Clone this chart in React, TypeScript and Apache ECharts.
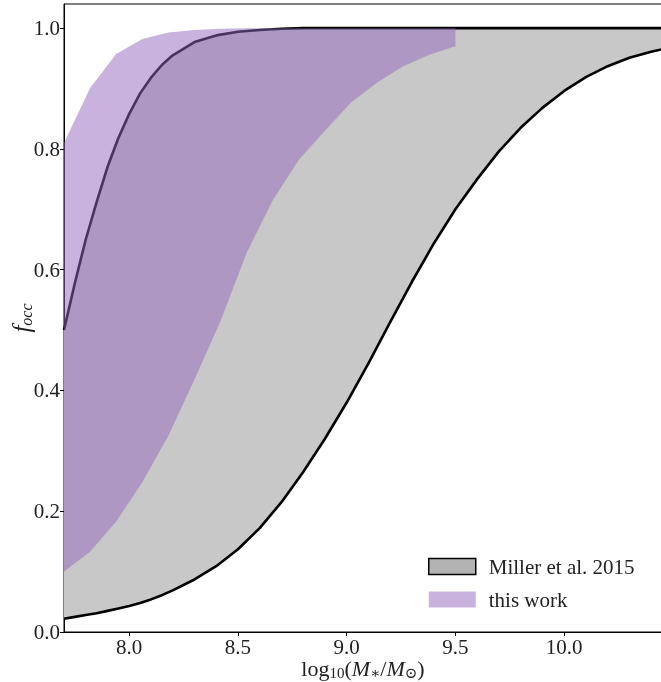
import React, { useEffect, useRef } from "react";
import * as echarts from "echarts";

// Miller et al. 2015 band (log10 stellar mass grid, lower and upper occupation fraction)
const massX = [7.7, 7.75, 7.8, 7.85, 7.9, 7.95, 8.0, 8.05, 8.1, 8.15, 8.2, 8.3, 8.4, 8.5, 8.6, 8.7, 8.8, 8.9, 9.0, 9.1, 9.2, 9.3, 9.4, 9.5, 9.6, 9.7, 9.8, 9.9, 10.0, 10.1, 10.2, 10.3, 10.4, 10.45];
const millerLower = [0.022, 0.025, 0.028, 0.031, 0.035, 0.039, 0.043, 0.048, 0.054, 0.061, 0.069, 0.087, 0.109, 0.137, 0.172, 0.215, 0.265, 0.32, 0.38, 0.445, 0.513, 0.58, 0.643, 0.7, 0.75, 0.796, 0.835, 0.868, 0.896, 0.919, 0.937, 0.951, 0.961, 0.965];
const millerUpper = [0.5, 0.578, 0.65, 0.712, 0.77, 0.818, 0.858, 0.892, 0.918, 0.939, 0.955, 0.977, 0.988, 0.994, 0.997, 0.999, 1, 1, 1, 1, 1, 1, 1, 1, 1, 1, 1, 1, 1, 1, 1, 1, 1, 1];

// This work band
const workX = [7.7, 7.82, 7.94, 8.06, 8.18, 8.3, 8.42, 8.54, 8.66, 8.78, 8.9, 9.02, 9.14, 9.26, 9.38, 9.5];
const workLower = [0.1, 0.133, 0.183, 0.248, 0.325, 0.418, 0.515, 0.628, 0.715, 0.782, 0.83, 0.877, 0.91, 0.937, 0.956, 0.97];
const workUpper = [0.81, 0.901, 0.957, 0.982, 0.993, 0.997, 0.999, 1, 1, 1, 1, 1, 1, 1, 1, 1];

// Ticks
const xTicks = [8.0, 8.5, 9.0, 9.5, 10.0];
const yTicks = [0.0, 0.2, 0.4, 0.6, 0.8, 1.0];

const FONT = '"Liberation Serif", "DejaVu Serif", serif';
const TXT = "#222";

function band(name: string, xs: number[], lo: number[], hi: number[], fill: string, z: number) {
  return {
    type: "custom",
    name,
    z,
    clip: true,
    silent: true,
    data: xs.map((x, i) => [x, lo[i], hi[i]]),
    encode: { x: 0, y: [1, 2] },
    renderItem: (params: any, api: any) => {
      if (params.dataIndex !== 0) return null;
      const pts: number[][] = [];
      xs.forEach((x, i) => pts.push(api.coord([x, hi[i]])));
      for (let i = xs.length - 1; i >= 0; i--) pts.push(api.coord([xs[i], lo[i]]));
      return { type: "polygon", shape: { points: pts }, style: { fill, stroke: "none" } };
    },
  };
}

function curve(id: string, ys: number[]) {
  return {
    type: "line",
    id,
    z: 3,
    silent: true,
    showSymbol: false,
    smooth: false,
    data: massX.map((x, i) => [x, ys[i]]),
    lineStyle: { color: "#000", width: 2.6, join: "round" },
    tooltip: { show: false },
  };
}

export default function App() {
  const ref = useRef<HTMLDivElement>(null);
  useEffect(() => {
    const chart = echarts.init(ref.current!, null, { renderer: "svg" });
    const xRich = {
      n: { fontFamily: FONT, fontSize: 22, color: TXT, lineHeight: 22 },
      i: { fontFamily: FONT, fontSize: 22, fontStyle: "italic", color: TXT, lineHeight: 22 },
      s: { fontFamily: FONT, fontSize: 15, color: TXT, padding: [8, 0, 0, 0] },
    };
    const yRich = {
      i: { fontFamily: FONT, fontSize: 25, fontStyle: "italic", color: TXT, lineHeight: 26 },
      si: { fontFamily: FONT, fontSize: 16, fontStyle: "italic", color: TXT, padding: [10, 0, 0, 0] },
    };
    chart.setOption({
      animation: false,
      grid: { left: 64, right: -1, top: 4, bottom: 50, show: true, borderColor: "#000", borderWidth: 1, containLabel: false, outerBoundsMode: "none" },
      legend: {
        orient: "vertical",
        left: 423,
        top: 551,
        itemWidth: 47,
        itemHeight: 16,
        itemGap: 12,
        selectedMode: false,
        textStyle: { fontFamily: FONT, fontSize: 21, color: TXT, padding: [0, 0, 0, 8] },
        data: [
          { name: "Miller et al. 2015", icon: "rect", itemStyle: { color: "#b3b3b3", borderColor: "#000", borderWidth: 1.5 } },
          { name: "this work", icon: "rect", itemStyle: { color: "#c9b3de", borderWidth: 0 } },
        ],
      },
      xAxis: {
        type: "value",
        min: 7.7,
        max: 10.45,
        axisLine: { show: true, onZero: false, lineStyle: { color: "#000", width: 1 } },
        axisTick: { show: true, length: 4, customValues: xTicks, lineStyle: { color: "#000" } },
        axisLabel: { customValues: xTicks, formatter: (v: number) => v.toFixed(1), fontFamily: FONT, fontSize: 21, lineHeight: 16, color: TXT, margin: 7 },
        splitLine: { show: false },
        name: "{n|log}{s|10}{n|(}{i|M}{s|∗}{n|/}{i|M}{s|⊙}{n|)}",
        nameLocation: "middle",
        nameGap: 25,
        nameMoveOverlap: false,
        nameTextStyle: { rich: xRich },
      },
      yAxis: {
        type: "value",
        min: 0,
        max: 1.04,
        axisLine: { show: true, onZero: false, lineStyle: { color: "#000", width: 1 } },
        axisTick: { show: true, length: 4, customValues: yTicks, lineStyle: { color: "#000" } },
        axisLabel: { customValues: yTicks, formatter: (v: number) => v.toFixed(1), fontFamily: FONT, fontSize: 21, color: TXT, margin: 4 },
        splitLine: { show: false },
        name: "{i|f}{si|occ}",
        nameLocation: "middle",
        nameGap: 30,
        nameRotate: 90,
        nameMoveOverlap: false,
        nameTextStyle: { rich: yRich },
      },
      series: [
        band("Miller et al. 2015", massX, millerLower, millerUpper, "#c8c8c8", 1),
        curve("millerLower", millerLower),
        curve("millerUpper", millerUpper),
        band("this work", workX, workLower, workUpper, "rgba(148,103,189,0.5)", 4),
      ],
    });
    return () => chart.dispose();
  }, []);
  return <div ref={ref} style={{ position: "fixed", left: 0, top: 0, width: 661, height: 682 }} />;
}
